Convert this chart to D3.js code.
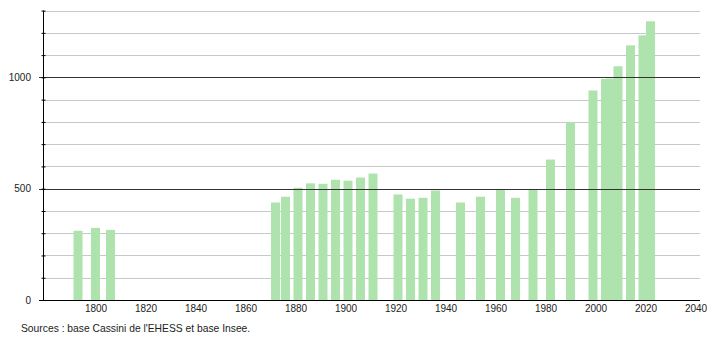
<!DOCTYPE html>
<html>
<head>
<meta charset="utf-8">
<script src="https://cdn.jsdelivr.net/npm/d3@7"></script>
<style>
  body { margin: 0; background: #fff; }
  text { font-family: "Liberation Sans", Arial, sans-serif; }
</style>
</head>
<body>
<div id="my_dataviz"></div>
<script>
// Population par recensement
const annees = [1793, 1800, 1806, 1872, 1876, 1881, 1886, 1891, 1896, 1901, 1906, 1911,
  1921, 1926, 1931, 1936, 1946, 1954, 1962, 1968, 1975, 1982, 1990, 1999,
  2004, 2006, 2009, 2014, 2019, 2022]
const population = [311, 324, 315, 438, 464, 504, 524, 522, 540, 536, 550, 568,
  474, 455, 459, 492, 438, 464, 495, 459, 495, 631, 800, 941,
  993, 995, 1050, 1144, 1189, 1252]
const xTicks = [1800, 1820, 1840, 1860, 1880, 1900, 1920, 1940, 1960, 1980, 2000, 2020, 2040]
const yLabels = [0, 500, 1000]
const source = "Sources : base Cassini de l'EHESS et base Insee."

const width = 710, height = 340

const svg = d3.select("#my_dataviz")
  .append("svg")
    .attr("width", width)
    .attr("height", height)

// Echelles
const x = d3.scaleLinear().domain([1779, 2042]).range([43, 700.5])
const y = d3.scaleLinear().domain([0, 1300]).range([300, 10.6])

// Grille secondaire (tous les 100)
const grille = d3.range(100, 1301, 100).filter(v => v % 500 != 0)
svg.append("g")
  .selectAll("line")
  .data(grille)
  .join("line")
    .attr("x1", 43).attr("x2", 700)
    .attr("y1", d => Math.round(y(d)) + 0.5)
    .attr("y2", d => Math.round(y(d)) + 0.5)
    .attr("stroke", "#c8c8c8")

// Barres
const bw = 9
svg.append("g")
  .selectAll("rect")
  .data(annees)
  .join("rect")
    .attr("x", (d, i) => x(d) - bw / 2)
    .attr("y", (d, i) => y(population[i]))
    .attr("width", bw)
    .attr("height", (d, i) => y(0) - y(population[i]))
    .attr("fill", "#aee3ae")

// Grille principale (500, 1000)
svg.append("g")
  .selectAll("line")
  .data([500, 1000])
  .join("line")
    .attr("x1", 39).attr("x2", 700)
    .attr("y1", d => Math.round(y(d)) + 0.5)
    .attr("y2", d => Math.round(y(d)) + 0.5)
    .attr("stroke", "#333")

// Axe Y
const axeY = svg.append("g").attr("transform", "translate(43.5,0)")
axeY.call(d3.axisLeft(y).tickValues(d3.range(0, 1301, 100)).tickSize(3).tickFormat(""))
axeY.select(".domain").remove()
axeY.selectAll(".tick line").attr("x2", -2).attr("x1", 2).attr("stroke", "#000")
axeY.append("line")
  .attr("x1", 0).attr("x2", 0)
  .attr("y1", y(1300)).attr("y2", y(0))
  .attr("stroke", "#000")

svg.append("g")
  .selectAll("text")
  .data(yLabels)
  .join("text")
    .attr("x", 31)
    .attr("y", d => y(d))
    .attr("dy", "0.35em")
    .attr("text-anchor", "end")
    .attr("font-size", 10)
    .attr("fill", "#222")
    .text(d => d)

// Axe X
svg.append("line")
  .attr("x1", 39).attr("x2", 700)
  .attr("y1", 300.5).attr("y2", 300.5)
  .attr("stroke", "#000")

const axeX = svg.append("g").attr("transform", "translate(0,300.5)")
axeX.call(d3.axisBottom(x).tickValues(xTicks).tickSize(0).tickFormat(d3.format("d")).tickPadding(4))
axeX.select(".domain").remove()
axeX.selectAll("text")
  .attr("font-size", 10)
  .attr("font-family", "Liberation Sans, Arial, sans-serif")
  .attr("fill", "#222")

// Source
svg.append("text")
  .attr("x", 21)
  .attr("y", 332)
  .attr("font-size", 10.3)
  .attr("fill", "#222")
  .text(source)
</script>
</body>
</html>
